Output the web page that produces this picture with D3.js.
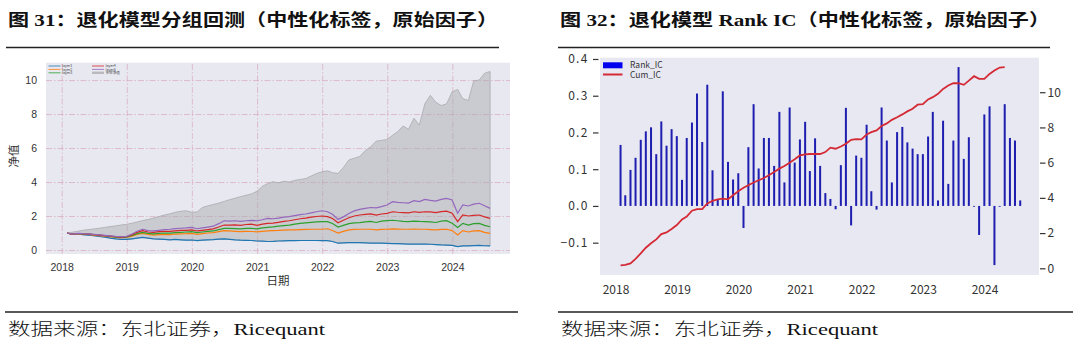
<!DOCTYPE html>
<html>
<head>
<meta charset="utf-8">
<script src="https://cdn.jsdelivr.net/npm/d3@7"></script>
<style>
  body { margin: 0; background: #fff; }
</style>
</head>
<body>
<script>
// ---- data ----
const years = [2018, 2019, 2020, 2021, 2022, 2023, 2024];
const startMonth = [2018, 0];   // first point is the end of Jan 2018
const nMonths = 79;

const layer1 = [1.00,0.92,0.95,0.90,0.88,0.84,0.80,0.76,0.70,0.66,0.63,0.62,0.66,0.70,0.74,0.70,0.66,0.64,0.62,0.60,0.62,0.60,0.58,0.59,
  0.55,0.58,0.60,0.61,0.64,0.65,0.63,0.60,0.58,0.57,0.56,0.53,
  0.52,0.50,0.51,0.53,0.54,0.55,0.55,0.56,0.56,0.56,0.56,0.55,
  0.55,0.50,0.40,0.42,0.43,0.43,0.43,0.42,0.41,0.40,0.40,0.39,
  0.38,0.37,0.36,0.35,0.35,0.35,0.35,0.34,0.32,0.30,0.29,0.27,
  0.20,0.24,0.24,0.26,0.27,0.25,0.24];
const layer2 = [1.00,0.93,0.96,0.93,0.92,0.88,0.85,0.82,0.78,0.74,0.72,0.74,0.82,0.92,0.98,0.92,0.88,0.90,0.92,0.90,0.94,0.95,0.96,0.98,
  0.92,0.96,1.00,1.02,1.08,1.14,1.12,1.10,1.08,1.10,1.09,1.07,
  1.10,1.12,1.14,1.15,1.17,1.18,1.19,1.20,1.21,1.22,1.22,1.22,
  1.25,1.15,1.00,1.10,1.18,1.21,1.22,1.22,1.22,1.18,1.21,1.22,
  1.24,1.23,1.22,1.22,1.23,1.22,1.22,1.20,1.18,1.21,1.22,1.14,
  0.88,1.14,1.06,1.12,1.14,1.04,0.98];
const layer3 = [1.00,0.93,0.97,0.94,0.93,0.90,0.87,0.84,0.80,0.76,0.74,0.76,0.86,0.96,1.04,0.98,0.95,0.98,1.00,0.99,1.02,1.04,1.06,1.08,
  1.02,1.06,1.10,1.12,1.20,1.27,1.27,1.26,1.24,1.27,1.28,1.24,
  1.30,1.33,1.36,1.40,1.43,1.46,1.52,1.57,1.60,1.63,1.65,1.67,
  1.67,1.56,1.35,1.45,1.55,1.60,1.61,1.65,1.68,1.62,1.70,1.73,
  1.75,1.72,1.68,1.67,1.70,1.68,1.67,1.66,1.62,1.70,1.73,1.57,
  1.33,1.57,1.47,1.55,1.57,1.45,1.37];
const layer4 = [1.00,0.94,0.97,0.95,0.94,0.91,0.88,0.85,0.82,0.78,0.76,0.78,0.90,1.04,1.14,1.06,1.04,1.08,1.10,1.10,1.13,1.15,1.16,1.18,
  1.12,1.16,1.20,1.24,1.35,1.47,1.46,1.48,1.45,1.50,1.52,1.45,
  1.52,1.57,1.58,1.63,1.68,1.72,1.78,1.84,1.88,1.93,1.97,2.00,
  1.96,1.85,1.60,1.75,1.90,2.00,2.06,2.10,2.12,2.05,2.12,2.16,
  2.25,2.22,2.20,2.18,2.25,2.22,2.25,2.24,2.20,2.26,2.29,2.16,
  1.67,2.06,2.00,2.04,2.06,1.95,1.86];
const layer5 = [1.00,0.94,0.98,0.96,0.95,0.92,0.89,0.86,0.83,0.80,0.78,0.80,0.94,1.10,1.22,1.14,1.12,1.16,1.20,1.22,1.26,1.28,1.30,1.33,
  1.25,1.30,1.35,1.40,1.55,1.72,1.70,1.72,1.68,1.72,1.74,1.72,
  1.78,1.86,1.84,1.88,1.93,1.96,2.02,2.08,2.12,2.18,2.25,2.31,
  2.25,2.10,1.80,1.95,2.15,2.30,2.39,2.45,2.50,2.48,2.55,2.65,
  2.84,2.80,2.78,2.76,2.90,2.85,2.98,2.92,2.88,2.98,3.04,2.94,
  2.16,2.65,2.59,2.70,2.75,2.60,2.45];
const longShort = [1.00,1.05,1.10,1.16,1.20,1.24,1.28,1.33,1.38,1.42,1.47,1.51,1.58,1.65,1.73,1.80,1.88,1.97,2.06,2.13,2.22,2.28,2.31,2.22,
  2.24,2.50,2.60,2.68,2.76,2.86,2.96,3.05,3.14,3.22,3.30,3.45,
  3.75,3.90,4.02,3.95,4.05,4.00,4.10,4.15,4.20,4.35,4.50,4.60,
  4.66,4.55,4.50,4.85,5.30,5.40,5.50,5.85,6.08,6.40,6.45,6.50,
  6.75,6.96,7.30,7.10,7.75,7.35,8.60,9.10,8.70,8.50,8.60,9.30,
  9.45,8.90,8.80,9.95,10.00,10.40,10.50];

const rankIC = [0.166,0.029,0.098,0.131,0.180,0.203,0.214,0.141,0.230,0.164,0.209,0.190,
  0.071,0.185,0.227,0.306,0.174,0.330,0.097,0.018,0.312,0.120,0.072,0.089,
  -0.060,0.160,0.277,0.102,0.185,0.185,0.109,0.256,0.064,0.268,0.118,0.181,
  0.229,0.095,0.184,0.109,0.035,0.019,-0.009,0.111,0.267,-0.053,0.137,0.131,
  0.221,0.040,-0.010,0.268,0.178,0.064,0.201,0.215,0.173,0.156,0.141,0.141,
  0.189,0.256,0.015,0.232,0.060,0.178,0.378,0.128,0.187,-0.002,-0.079,0.249,
  0.271,-0.161,-0.002,0.277,0.185,0.178,0.015];
const cumIC = [0.17,0.19,0.28,0.53,0.85,1.17,1.42,1.64,1.94,2.04,2.23,2.46,
  2.78,2.94,3.27,3.36,3.36,3.68,3.83,3.91,3.96,3.92,4.15,4.38,
  4.57,4.72,4.87,5.00,5.13,5.28,5.47,5.66,5.81,6.00,6.19,6.41,
  6.47,6.49,6.49,6.49,6.60,6.85,6.79,6.92,7.07,7.30,7.34,7.32,
  7.60,7.73,7.83,8.08,8.23,8.43,8.58,8.74,8.91,9.06,9.29,9.32,
  9.59,9.72,9.91,10.19,10.38,10.51,10.51,10.42,10.66,10.91,10.76,10.76,
  11.04,11.23,11.40,11.42];

const layerNames = ["layer1", "layer2", "layer3", "layer4", "layer5"];
const layerColors = ["#1f77b4", "#ff7f0e", "#2ca02c", "#d62728", "#9467bd"];
const lsName = "多空净值";
const leftTicksY = [0, 2, 4, 6, 8, 10];
const icTicks = [-0.1, 0, 0.1, 0.2, 0.3, 0.4];
const cumTicks = [0, 2, 4, 6, 8, 10];

// month-end dates, one per point
const dates = d3.range(nMonths).map(i =>
  d3.timeDay.offset(new Date(startMonth[0], startMonth[1] + i + 1, 1), -1));
const yearDates = years.map(y => new Date(y, 0, 1));

const svg = d3.select("body").append("svg")
  .attr("width", 1080).attr("height", 351)
  .style("font-family", "'Liberation Sans', 'Noto Sans CJK SC', sans-serif");

const cjk = "'Noto Sans CJK SC', sans-serif";
const serif = "'Liberation Serif', 'Noto Sans CJK SC', serif";

// ---- headers / footers ----
function header(x, x1, text, width) {
  svg.append("text").attr("x", x).attr("y", 26)
    .attr("font-family", serif).attr("font-weight", "bold").attr("font-size", 17)
    .attr("fill", "#111")
    .attr("textLength", width).attr("lengthAdjust", "spacingAndGlyphs")
    .text(text);
  svg.append("line").attr("x1", x - 2).attr("x2", x1).attr("y1", 47.5).attr("y2", 47.5)
    .attr("stroke", "#222").attr("stroke-width", 1.5);
}
function footer(x, x1, text, width) {
  svg.append("line").attr("x1", x - 3).attr("x2", x1).attr("y1", 312).attr("y2", 312)
    .attr("stroke", "#222").attr("stroke-width", 1.5);
  svg.append("text").attr("x", x).attr("y", 335)
    .attr("font-family", serif).attr("font-size", 17).attr("font-weight", 300)
    .attr("fill", "#111")
    .attr("textLength", width).attr("lengthAdjust", "spacingAndGlyphs")
    .text(text);
}
header(8, 499, "图 31：退化模型分组回测（中性化标签，原始因子）", 490);
header(560, 1050, "图 32：退化模型 Rank IC（中性化标签，原始因子）", 490);
footer(8, 518, "数据来源：东北证券，Ricequant", 317);
footer(561, 1073, "数据来源：东北证券，Ricequant", 317);

// ---- left: group backtest ----
(function () {
  const L = { left: 46, right: 510, top: 62.7, bottom: 254 };
  const x = d3.scaleTime().domain([yearDates[0], yearDates[6]]).range([61.7, 452.3]);
  const y = d3.scaleLinear().domain([-0.235, 11.02]).range([L.bottom, L.top]);
  const g = svg.append("g");

  g.append("rect").attr("x", L.left).attr("y", L.top)
    .attr("width", L.right - L.left).attr("height", L.bottom - L.top)
    .attr("fill", "#e8e8f1");

  const gx = g.append("g").attr("transform", `translate(0,${L.bottom})`)
    .call(d3.axisBottom(x).tickValues(yearDates).tickFormat(d3.timeFormat("%Y"))
      .tickSize(-(L.bottom - L.top)).tickPadding(10));
  const gy = g.append("g").attr("transform", `translate(${L.left},0)`)
    .call(d3.axisLeft(y).tickValues(leftTicksY).tickSize(-(L.right - L.left)).tickPadding(9));
  [gx, gy].forEach(a => {
    a.select(".domain").remove();
    a.selectAll(".tick line").attr("stroke", "#dbb0c0").attr("stroke-width", 0.8)
      .attr("stroke-dasharray", "6,2,1.5,2");
    a.selectAll("text").attr("font-size", 10.5).attr("fill", "#333");
  });

  const area = d3.area()
    .x((d, i) => x(dates[i]))
    .y0((d, i) => y(layer1[i]))
    .y1(d => y(d));
  g.append("path").datum(longShort).attr("d", area)
    .attr("fill", "#a9a9ae").attr("fill-opacity", 0.48)
    .attr("stroke", "#aaaaaf").attr("stroke-width", 0.8);

  const line = d3.line().x((d, i) => x(dates[i])).y(d => y(d));
  [layer1, layer2, layer3, layer4, layer5].forEach((s, k) => {
    g.append("path").datum(s).attr("d", line)
      .attr("fill", "none").attr("stroke", layerColors[k]).attr("stroke-width", 1.2);
  });

  g.append("text").attr("x", 278).attr("y", 285).attr("text-anchor", "middle")
    .attr("font-family", cjk).attr("font-size", 11.5).attr("fill", "#333").text("日期");
  g.append("text").attr("transform", "translate(18,156) rotate(-90)")
    .attr("text-anchor", "middle").attr("font-family", cjk)
    .attr("font-size", 11.5).attr("fill", "#333").text("净值");

  // tiny legend, two columns
  const leg = g.append("g").attr("font-family", cjk).attr("font-size", 3.6).attr("fill", "#444");
  const items = layerNames.map((n, k) => ({ name: n, color: layerColors[k], patch: false }))
    .concat([{ name: lsName, color: "#b9b9be", patch: true }]);
  items.forEach((d, k) => {
    const col = k < 3 ? 0 : 1, row = k % 3;
    const lx = 48.5 + col * 43.5, ly = 66 + row * 3.4;
    if (d.patch) {
      leg.append("rect").attr("x", lx).attr("y", ly - 1.2).attr("width", 12).attr("height", 2.4)
        .attr("fill", d.color);
    } else {
      leg.append("line").attr("x1", lx).attr("x2", lx + 12).attr("y1", ly).attr("y2", ly)
        .attr("stroke", d.color).attr("stroke-width", 0.8);
    }
    leg.append("text").attr("x", lx + 13.5).attr("y", ly + 1.2).text(d.name);
  });
})();

// ---- right: Rank IC ----
(function () {
  const R = { left: 600, right: 1039, top: 57.7, bottom: 275 };
  const x = d3.scaleTime().domain([yearDates[0], yearDates[6]]).range([615.5, 984.5]);
  const y = d3.scaleLinear().domain([-0.188, 0.4035]).range([R.bottom, R.top]);
  const yc = d3.scaleLinear().domain([-0.38, 11.96]).range([R.bottom, R.top]);
  const g = svg.append("g");

  g.append("rect").attr("x", R.left).attr("y", R.top)
    .attr("width", R.right - R.left).attr("height", R.bottom - R.top)
    .attr("fill", "#e8e8f2");

  g.selectAll("rect.bar").data(rankIC).join("rect").attr("class", "bar")
    .attr("x", (d, i) => x(dates[i]) - 1)
    .attr("width", 2)
    .attr("y", d => y(Math.max(0, d)))
    .attr("height", d => Math.max(0.8, Math.abs(y(d) - y(0))))
    .attr("fill", "#1e1eb0");

  g.append("path").datum(cumIC)
    .attr("d", d3.line().x((d, i) => x(dates[i])).y(d => yc(d)))
    .attr("fill", "none").attr("stroke", "#d42a35").attr("stroke-width", 1.8);

  const ax = g.append("g").attr("transform", `translate(0,${R.bottom})`)
    .call(d3.axisBottom(x).tickValues(yearDates).tickFormat(d3.timeFormat("%Y"))
      .tickSize(0).tickPadding(10));
  const al = g.append("g").attr("transform", `translate(598.5,0)`)
    .call(d3.axisLeft(y).tickValues(icTicks).tickFormat(d3.format(".1f"))
      .tickSize(5.5).tickPadding(4.5));
  const ar = g.append("g").attr("transform", `translate(1040,0)`)
    .call(d3.axisRight(yc).tickValues(cumTicks).tickSize(5.5).tickPadding(2));
  [ax, al, ar].forEach(a => {
    a.select(".domain").remove();
    a.selectAll(".tick line").attr("stroke", "#333").attr("stroke-width", 1.2);
    a.selectAll("text").attr("font-family", cjk).attr("font-size", 12).attr("fill", "#333");
  });
  al.selectAll("text").attr("letter-spacing", 1.2);

  // legend
  const leg = g.append("g").attr("font-family", cjk).attr("font-size", 8.5).attr("fill", "#333");
  leg.append("rect").attr("x", 603).attr("y", 62.3).attr("width", 19.5).attr("height", 6)
    .attr("fill", "#0000ee");
  leg.append("text").attr("x", 630).attr("y", 68).text("Rank_IC");
  leg.append("line").attr("x1", 603).attr("x2", 622.5).attr("y1", 74.5).attr("y2", 74.5)
    .attr("stroke", "#d42a35").attr("stroke-width", 2);
  leg.append("text").attr("x", 630).attr("y", 78).text("Cum_IC");
})();
</script>
</body>
</html>
